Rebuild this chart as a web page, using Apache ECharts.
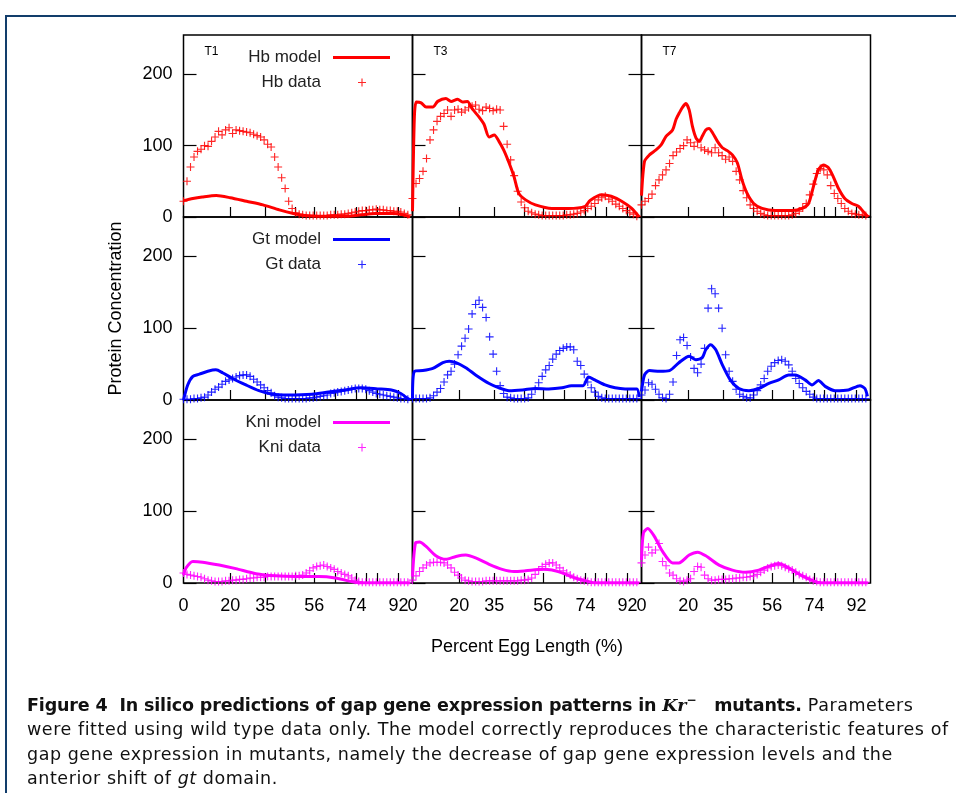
<!DOCTYPE html>
<html>
<head>
<meta charset="utf-8">
<script src="https://cdn.jsdelivr.net/npm/echarts@6/dist/echarts.min.js"></script>
<style>
  body { margin: 0; background: #fff; }
  #wrap { position: relative; width: 956px; height: 793px; overflow: hidden; }
  #frame { position: absolute; left: 5px; top: 15px; width: 980px; height: 800px;
           border-left: 2px solid #123d6b; border-top: 2px solid #123d6b; }
  #main { position: absolute; left: 0; top: 0; width: 956px; height: 793px; }
  #cap { position: absolute; left: 27px; top: 688px; white-space: nowrap;
         font-family: "DejaVu Sans", sans-serif; font-size: 17.5px; letter-spacing: 0.55px;
         line-height: 24.5px; color: #111; }
  #cap b { letter-spacing: -0.15px; }
  #cap .m { font-family: "DejaVu Serif", serif; font-style: italic; font-weight: bold; }
</style>
</head>
<body>
<div id="wrap">
  <div id="frame"></div>
  <div id="main"></div>
  <div id="cap"><b>Figure 4&nbsp; In silico predictions of gap gene expression patterns in <span class="m">Kr</span><sup style="font-size:12px">−</sup>&nbsp;&nbsp; mutants.</b> Parameters<br>were fitted using wild type data only. The model correctly reproduces the characteristic features of<br>gap gene expression in mutants, namely the decrease of gap gene expression levels and the<br>anterior shift of <i>gt</i> domain.</div>
</div>
<script>
// x positions of the data points (% egg length)
var eggPos = [0,1.5,3,4.5,6,7.5,9,10.5,12,13.5,15,16.5,18,19.5,21,22.5,24,25.5,27,28.5,
	30,31.5,33,34.5,36,37.5,39,40.5,42,43.5,45,46.5,48,49.5,51,52.5,54,55.5,57,58.5,
	60,61.5,63,64.5,66,67.5,69,70.5,72,73.5,75,76.5,78,79.5,81,82.5,84,85.5,87,88.5,
	90,91.5,93,94.5,96];

var xLabels = [0,20,35,56,74,92];
var xTicks = [20,35,48,56,65,74,78,83,92];
var yLabels = [0,100,200];
var timeLabels = ['T1','T3','T7'];

// Hb
var hbT1Data = [22,50,70,84,92,95,100,99,106,112,120,115,122,125,117,122,121,120,119,118,
	116,114,112,108,102,98,84,70,55,40,22,12,6,4,3,2,2,2,2,2,
	2,2,3,3,3,4,4,5,6,7,8,9,9,10,10,11,10,10,9,9,8,8,7,5,3];
var hbT3Data = [26,47,54,64,82,108,122,134,141,145,150,141,150,151,147,150,153,155,157,151,
	149,154,152,149,151,150,127,102,80,58,36,21,13,8,6,4,3,2,2,2,
	2,2,2,2,3,3,4,5,7,9,12,15,19,24,27,29,25,22,18,15,12,9,6,4,1];
var hbT7Data = [17,22,26,32,44,52,59,66,75,86,91,96,100,108,104,99,105,97,94,92,
	90,97,90,86,81,84,78,64,52,37,27,17,12,8,5,3,2,2,2,2,
	2,2,2,3,5,8,13,19,31,46,61,68,66,59,44,33,26,19,12,8,5,4,3,3,2];
var hbT1Model = [[0,23],[4,26],[8,28],[14,30],[20,27],[27,22],[34,17],[41,10],[47,5],[52,2],
	[60,1],[70,1],[76,3],[82,5],[90,5],[94,3],[97,0]];
var hbT3Model = [[0,8],[0.8,140],[1.6,161],[3.7,160],[5.8,154],[8.7,154],[10.8,162],[14.3,166],
	[16.5,162],[19.3,165],[21.4,161],[23.5,162],[25.7,151],[28.5,140],[30.6,130],[32.8,112],
	[35,115],[37,106],[39,94],[41.3,76],[43.4,57],[45.5,33],[48.4,24],[52.6,17],[59.7,12],
	[66.8,12],[73.9,15],[76,23],[81,31],[85,29],[89.5,22],[93.8,12],[97,0]];
var hbT7Model = [[0,30],[1.3,78],[3.4,87],[6.2,94],[8.4,101],[10.5,113],[13.3,122],[14.8,137],
	[16.2,146],[17.6,154],[19,159],[20.4,150],[21.8,127],[23.3,111],[24.7,106],[26,113],
	[27.5,122],[28.9,124],[30.4,118],[32.5,106],[34.6,97],[36.7,93],[38.9,87],[41,76],[43,52],
	[45.2,33],[48,19],[51.6,12],[57.3,9],[64.4,9],[68.7,12],[71.5,19],[73.6,43],[75.7,66],
	[77.9,73],[80,69],[82,57],[84.3,40],[87,26],[90,19],[92.8,15],[95.6,5],[97,0]];

// Gt
var gtT1Data = [1,1,1,2,2,3,4,7,11,15,18,22,26,28,30,32,34,35,35,33,
	29,25,21,17,13,10,6,4,3,2,2,2,2,2,2,2,3,3,4,5,
	6,7,9,10,11,12,13,14,15,16,16,16,15,13,11,9,8,7,6,5,4,3,2,2,1];
var gtT3Data = [2,2,2,2,2,3,6,11,16,25,35,40,50,63,75,86,99,120,133,139,
	129,115,88,64,40,20,9,4,3,2,2,2,2,3,8,15,24,33,42,48,
	57,64,69,72,74,74,70,54,48,36,25,17,11,5,3,2,2,2,2,2,2,2,2,2,2];
var gtT7Data = [7,14,24,22,15,8,3,2,8,25,62,84,87,76,60,44,38,50,72,128,
	155,148,128,100,63,40,26,15,8,5,3,3,7,13,21,30,40,47,52,55,
	56,54,49,40,30,23,17,12,8,4,2,2,2,2,2,2,2,2,2,2,2,2,2,2,2];
var gtT1Model = [[0,0],[1.8,21],[4,33],[6.8,36],[10.4,40],[13.9,42],[16.7,38],[21,30],[26.7,21],
	[32.3,13],[38,8],[45,7],[55,8],[62,11],[69,14],[76,17],[83,15.5],[89,14],[93,9],[96,2],[97,0]];
var gtT3Model = [[0,2],[0.85,40],[4.4,41],[8.7,44],[13,52],[15.7,54],[18.6,52],[22.8,45],[27,35],
	[32.8,23],[37,17],[41.3,13],[47,14],[52.6,16],[58.3,15.5],[64,17],[68,20],[73,20],[75.3,32],
	[78,28],[82.4,21],[86.7,17],[91,15.5],[96,15.5],[97,4]];
var gtT7Model = [[0,12],[1.3,35],[3.4,41],[7.7,40],[12,41],[16,52],[20.4,61],[23.3,56],[26,59],
	[27.5,70],[29.6,77],[31.8,70],[34.6,49],[38,28],[41.7,16],[46,13],[50.2,16],[54.5,23],
	[58.7,28],[63,35],[65.8,35],[70,28],[73,21],[75.7,27],[78.6,19],[82.8,13],[88.5,14],
	[93.5,20],[95.6,16],[96.7,5]];

// Kni
var kniT1Data = [14,12,11,10,9,8,6,4,3,2,2,2,3,3,4,4,5,5,6,7,
	7,8,8,8,9,9,9,9,9,9,9,9,10,10,11,14,17,21,23,24,
	25,23,21,19,16,14,12,10,7,4,2,1,1,1,1,1,1,1,1,1,1,1,1,1,1];
var kniT3Data = [4,10,16,21,25,28,29,29,29,28,25,21,15,11,7,4,3,2,2,2,
	2,3,3,3,3,3,3,3,3,3,3,4,4,5,7,12,18,23,26,28,
	28,25,21,17,14,11,8,6,4,3,2,1,1,1,1,1,1,1,1,1,1,1,1,1,1];
var kniT7Data = [28,39,50,42,46,55,30,24,14,11,6,3,2,4,6,16,23,22,11,6,
	4,4,5,5,5,6,6,7,7,8,8,9,10,12,15,18,21,23,24,25,
	24,22,20,18,15,12,10,8,5,3,2,1,1,1,1,1,1,1,1,1,1,1,1,1,1];
var kniT1Model = [[0,11],[1.1,21],[4,30],[8.2,29],[15.3,25],[22.4,20],[31,13],[39.4,10],[48,9],
	[58,9],[65,7],[72,2],[76,0],[97,0]];
var kniT3Model = [[0,9],[1.3,56],[3,57],[5.8,51],[10,38],[14.3,33],[18.6,37],[22.8,39],[27,35],
	[32.8,26],[38.4,19],[43.4,16],[48.4,17],[55.5,19],[59.7,18],[64,14],[69.6,7],[75.3,2],[78,0],[97,0]];
var kniT7Model = [[0,32],[0.85,70],[2.7,76],[5.5,65],[9,44],[13.3,28],[16,28],[20.4,39],[24,43],
	[27.5,38],[33.2,25],[38.9,18],[44.5,15],[50.2,18],[55.9,25],[58.7,27],[63,21],[68.7,10],
	[74.3,2],[77,0],[97,0]];

var genes = [
	{name:'Hb', color:'#ff0000', models:[hbT1Model,hbT3Model,hbT7Model], datas:[hbT1Data,hbT3Data,hbT7Data]},
	{name:'Gt', color:'#0000ff', models:[gtT1Model,gtT3Model,gtT7Model], datas:[gtT1Data,gtT3Data,gtT7Data]},
	{name:'Kni', color:'#ff00ff', models:[kniT1Model,kniT3Model,kniT7Model], datas:[kniT1Data,kniT3Data,kniT7Data]}
];

var FONT = 'Liberation Sans';
var plusIcon = 'path://M4.3,0H5.7V4.3H10V5.7H5.7V10H4.3V5.7H0V4.3H4.3Z';
var colLeft = [183.5,412.5,641.5];
var rowTop = [35,217,400];
var rowH = [182,183,183];

var grids=[], xAxes=[], yAxes=[], series=[], legends=[], graphics=[];
for(var r=0;r<3;r++){
	var g = genes[r];
	for(var c=0;c<3;c++){
		var k = r*3+c;
		grids.push({left:colLeft[c], top:rowTop[r], width:229, height:rowH[r],
			show:true, borderColor:'#000', borderWidth:1.5, backgroundColor:'transparent'});
		xAxes.push({
			type:'value', gridIndex:k, min:0, max:98,
			axisLine:{show:false}, splitLine:{show:false},
			axisTick:{show:true, inside:true, length:10, customValues:xTicks, lineStyle:{color:'#000', width:1.2}},
			axisLabel:{show:r==2, customValues:xLabels, margin:14, color:'#000', fontFamily:FONT, fontSize:18},
			name:(r==2&&c==1)?'Percent Egg Length (%)':'', nameLocation:'middle', nameGap:55,
			nameTextStyle:{color:'#000', fontFamily:FONT, fontSize:18}
		});
		yAxes.push({
			type:'value', gridIndex:k, min:0, max:255,
			axisLine:{show:false}, splitLine:{show:false},
			axisTick:{show:true, inside:true, length:13, customValues:yLabels, lineStyle:{color:'#000', width:1.2}},
			axisLabel:{show:c==0, customValues:yLabels, margin:11, color:'#000', fontFamily:FONT, fontSize:18},
			name:(r==1&&c==0)?'Protein Concentration':'', nameLocation:'middle', nameGap:58, nameRotate:90,
			nameTextStyle:{color:'#000', fontFamily:FONT, fontSize:18}
		});
		series.push({
			name:g.name+' model', type:'line', xAxisIndex:k, yAxisIndex:k,
			data:g.models[c], symbol:'none', smooth:0.25,
			lineStyle:{color:g.color, width:3}, itemStyle:{color:g.color}, z:3
		});
		var arr = g.datas[c];
		series.push({
			name:g.name+' data', type:'scatter', xAxisIndex:k, yAxisIndex:k,
			data:eggPos.map(function(x,i){return [x, arr[i]];}),
			symbol:plusIcon, symbolSize:8,
			itemStyle:{color:g.color, opacity:0.85}, z:2
		});
	}
	legends.push({
		data:[g.name+' model'], orient:'vertical', align:'right', right:566, top:rowTop[r]+14,
		padding:0, icon:'rect', itemWidth:57, itemHeight:3,
		textStyle:{fontFamily:FONT, fontSize:17, color:'#222', padding:[0,7,0,0]}
	});
	legends.push({
		data:[g.name+' data'], orient:'vertical', align:'right', right:590, top:rowTop[r]+39,
		padding:0, icon:plusIcon, itemWidth:8, itemHeight:8,
		textStyle:{fontFamily:FONT, fontSize:17, color:'#222', padding:[0,32,0,0]}
	});
}
// ticks on the right side of the middle column
[1,4,7].forEach(function(k){
	yAxes.push({
		type:'value', gridIndex:k, min:0, max:255, position:'right',
		axisLine:{show:false}, splitLine:{show:false}, axisLabel:{show:false},
		axisTick:{show:true, inside:true, length:13, customValues:yLabels, lineStyle:{color:'#000', width:1.2}}
	});
});
for(var c=0;c<3;c++){
	graphics.push({type:'text', left:colLeft[c]+21, top:46,
		style:{text:timeLabels[c], font:'12px '+FONT, fill:'#000'}});
}

var myChart = echarts.init(document.getElementById('main'), null, {renderer:'canvas'});
var option = {
	animation:false,
	backgroundColor:'transparent',
	grid:grids,
	xAxis:xAxes,
	yAxis:yAxes,
	legend:legends,
	graphic:graphics,
	series:series
};
myChart.setOption(option);
</script>
</body>
</html>
